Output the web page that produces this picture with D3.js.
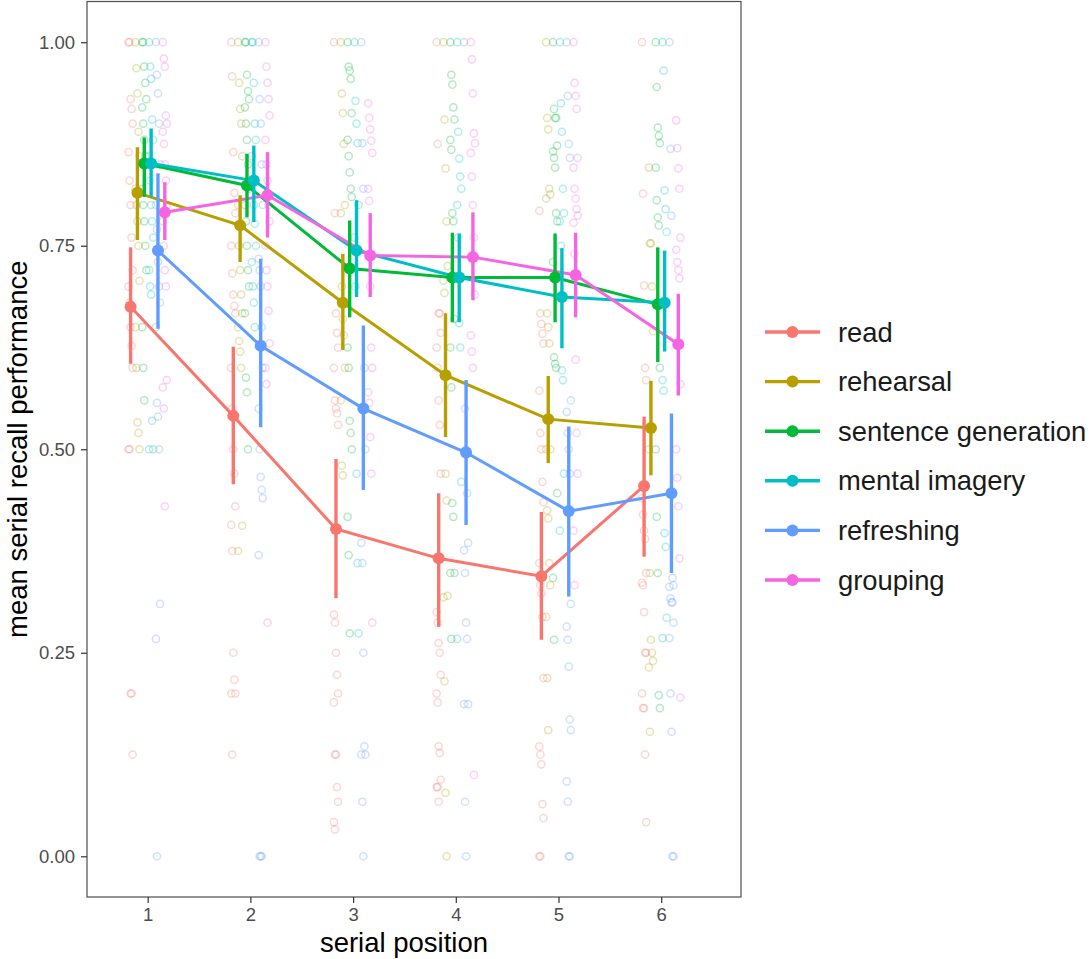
<!DOCTYPE html>
<html>
<head>
<meta charset="utf-8">
<script src="https://cdn.jsdelivr.net/npm/d3@7"></script>
<style>
  html, body { margin: 0; padding: 0; background: #fff; }
  svg { display: block; }
  text { font-family: "Liberation Sans", Arial, sans-serif; }
</style>
</head>
<body>
<svg id="chart" width="1091" height="959"></svg>
<script>
// ---------------- data ----------------
const conditions = ["read", "rehearsal", "sentence generation", "mental imagery", "refreshing", "grouping"];
const colors = ["#F8766D", "#B79F00", "#00BA38", "#00BFC4", "#619CFF", "#F564E3"];
const positions = [1, 2, 3, 4, 5, 6];
const yTicks = [0, 0.25, 0.5, 0.75, 1];
const yTickLabels = ["0.00", "0.25", "0.50", "0.75", "1.00"];

// mean per serial position
const meanRead       = [0.675, 0.541, 0.402, 0.366, 0.344, 0.455];
const meanRehearsal  = [0.815, 0.775, 0.680, 0.591, 0.537, 0.526];
const meanSentence   = [0.851, 0.824, 0.722, 0.711, 0.711, 0.678];
const meanImagery    = [0.851, 0.830, 0.744, 0.711, 0.687, 0.680];
const meanRefreshing = [0.744, 0.627, 0.550, 0.496, 0.424, 0.446];
const meanGrouping   = [0.791, 0.812, 0.738, 0.736, 0.714, 0.629];

// lower / upper ends of error bars
const lowRead       = [0.605, 0.457, 0.317, 0.282, 0.266, 0.368];
const highRead      = [0.748, 0.626, 0.488, 0.446, 0.423, 0.540];
const lowRehearsal  = [0.757, 0.730, 0.622, 0.515, 0.483, 0.468];
const highRehearsal = [0.871, 0.812, 0.740, 0.667, 0.590, 0.584];
const lowSentence   = [0.810, 0.785, 0.662, 0.656, 0.656, 0.607];
const highSentence  = [0.883, 0.863, 0.781, 0.766, 0.765, 0.748];
const lowImagery    = [0.810, 0.779, 0.687, 0.656, 0.624, 0.620];
const highImagery   = [0.894, 0.873, 0.806, 0.765, 0.747, 0.744];
const lowRefreshing = [0.648, 0.527, 0.450, 0.407, 0.319, 0.348];
const highRefreshing= [0.839, 0.734, 0.652, 0.585, 0.528, 0.544];
const lowGrouping   = [0.757, 0.760, 0.687, 0.683, 0.662, 0.566];
const highGrouping  = [0.828, 0.865, 0.790, 0.791, 0.766, 0.691];

// individual participant scores, one list per serial position
const pointsRead = [
  [1, 1, 0.93, 0.918, 0.9, 0.865, 0.83, 0.8, 0.76, 0.72, 0.7, 0.68, 0.65, 0.627, 0.6, 0.5, 0.5, 0.2, 0.2, 0.125],
  [1, 0.958, 0.865, 0.815, 0.79, 0.75, 0.716, 0.69, 0.676, 0.667, 0.6, 0.55, 0.5, 0.47, 0.43, 0.407, 0.375, 0.25, 0.217, 0.2, 0.2, 0.125],
  [1, 0.79, 0.667, 0.643, 0.625, 0.6, 0.56, 0.55, 0.544, 0.53, 0.297, 0.287, 0.25, 0.223, 0.2, 0.189, 0.125, 0.125, 0.085, 0.067, 0.042, 0.033],
  [1, 0.875, 0.667, 0.667, 0.643, 0.625, 0.6, 0.56, 0.53, 0.47, 0.3, 0.287, 0.262, 0.25, 0.223, 0.2, 0.189, 0.135, 0.127, 0.094, 0.085, 0.085, 0.067],
  [0.793, 0.667, 0.654, 0.642, 0.63, 0.572, 0.52, 0.5, 0.46, 0.435, 0.36, 0.333, 0.323, 0.294, 0.219, 0.135, 0.125, 0.113, 0.064, 0.047, 0, 0],
  [1, 0.814, 0.701, 0.6, 0.585, 0.44, 0.42, 0.4, 0.39, 0.348, 0.336, 0.333, 0.3, 0.25, 0.25, 0.2, 0.182, 0.182, 0.125, 0.042]
];
const pointsRehearsal = [
  [1, 0.968, 0.937, 0.89, 0.86, 0.82, 0.8, 0.78, 0.75, 0.707, 0.65, 0.6, 0.533, 0.52, 0.5],
  [1, 0.95, 0.918, 0.9, 0.86, 0.8, 0.75, 0.72, 0.69, 0.667, 0.65, 0.633, 0.62, 0.6, 0.406, 0.375],
  [1, 0.937, 0.913, 0.875, 0.8, 0.79, 0.7, 0.66, 0.64, 0.6, 0.56, 0.48, 0.468],
  [1, 0.905, 0.845, 0.78, 0.725, 0.707, 0.692, 0.47, 0.437, 0.32, 0.318, 0.215, 0.078, 0],
  [1, 0.907, 0.893, 0.82, 0.813, 0.808, 0.667, 0.65, 0.63, 0.5, 0.5, 0.425, 0.415, 0.36, 0.333, 0.294, 0.219, 0.155],
  [0.846, 0.753, 0.753, 0.7, 0.645, 0.5, 0.348, 0.266, 0.25, 0.24, 0.232, 0.153]
];
const pointsSentence = [
  [1, 1, 0.97, 0.95, 0.93, 0.92, 0.9, 0.88, 0.86, 0.85, 0.82, 0.8, 0.78, 0.75, 0.72, 0.65, 0.6, 0.56],
  [1, 1, 0.96, 0.94, 0.93, 0.92, 0.9, 0.88, 0.85, 0.82, 0.8, 0.78, 0.75, 0.72, 0.7, 0.667, 0.588, 0.57, 0.5],
  [1, 0.97, 0.965, 0.955, 0.913, 0.88, 0.86, 0.84, 0.82, 0.81, 0.625, 0.6, 0.535, 0.52, 0.5, 0.417, 0.37, 0.274],
  [1, 0.96, 0.948, 0.92, 0.905, 0.88, 0.868, 0.79, 0.78, 0.66, 0.625, 0.576, 0.434, 0.417, 0.348, 0.348, 0.267],
  [1, 0.918, 0.907, 0.907, 0.873, 0.866, 0.858, 0.846, 0.79, 0.78, 0.73, 0.613, 0.605, 0.6, 0.446, 0.342, 0.266],
  [1, 0.945, 0.895, 0.885, 0.876, 0.846, 0.806, 0.785, 0.775, 0.6, 0.5, 0.417, 0.348, 0.198, 0.182]
];
const pointsImagery = [
  [1, 0.97, 0.955, 0.905, 0.88, 0.86, 0.83, 0.8, 0.78, 0.76, 0.72, 0.7, 0.69, 0.535, 0.5, 0.5],
  [1, 1, 0.95, 0.9, 0.88, 0.86, 0.83, 0.8, 0.777, 0.75, 0.73, 0.7, 0.68, 0.65],
  [1, 0.928, 0.9, 0.876, 0.8, 0.76, 0.7, 0.47, 0.36, 0.274],
  [1, 0.89, 0.857, 0.835, 0.82, 0.8, 0.76, 0.655, 0.625, 0.46, 0.267],
  [1, 0.925, 0.89, 0.82, 0.79, 0.78, 0.75, 0.597, 0.585, 0.47, 0.4],
  [1, 0.965, 0.818, 0.795, 0.767, 0.585, 0.572, 0.397, 0.38, 0.293, 0.268]
];
const pointsRefreshing = [
  [1, 0.96, 0.937, 0.9, 0.85, 0.8, 0.77, 0.73, 0.7, 0.68, 0.65, 0.557, 0.54, 0.5, 0.31, 0.267, 0],
  [1, 0.93, 0.9, 0.85, 0.8, 0.734, 0.72, 0.7, 0.65, 0.6, 0.55, 0.5, 0.466, 0.45, 0.44, 0.37, 0, 0, 0],
  [1, 0.876, 0.82, 0.6, 0.5, 0.385, 0.36, 0.25, 0.135, 0.125, 0.125, 0.067, 0],
  [1, 0.55, 0.5, 0.446, 0.385, 0.376, 0.348, 0.287, 0.267, 0.187, 0.187, 0.067, 0],
  [1, 0.934, 0.875, 0.858, 0.56, 0.546, 0.52, 0.5, 0.47, 0.31, 0.282, 0.266, 0.233, 0.168, 0.155, 0.092, 0.067, 0, 0],
  [1, 0.869, 0.787, 0.342, 0.333, 0.331, 0.317, 0.312, 0.312, 0.287, 0.268, 0.2, 0.153, 0, 0]
];
const pointsGrouping = [
  [1, 0.98, 0.97, 0.91, 0.9, 0.89, 0.875, 0.85, 0.83, 0.8, 0.78, 0.75, 0.72, 0.7, 0.585, 0.576, 0.55, 0.43],
  [1, 0.97, 0.95, 0.93, 0.91, 0.88, 0.85, 0.83, 0.8, 0.78, 0.75, 0.72, 0.7, 0.67, 0.63, 0.6, 0.58, 0.287],
  [0.925, 0.907, 0.893, 0.879, 0.864, 0.82, 0.805, 0.7, 0.625, 0.6, 0.57, 0.557, 0.515, 0.47, 0.287],
  [1, 0.979, 0.937, 0.888, 0.876, 0.864, 0.835, 0.8, 0.76, 0.69, 0.64, 0.62, 0.6, 0.1],
  [1, 0.95, 0.934, 0.918, 0.858, 0.846, 0.82, 0.808, 0.795, 0.787, 0.778, 0.74, 0.61, 0.52, 0.47, 0.4, 0.333],
  [0.904, 0.87, 0.845, 0.82, 0.76, 0.745, 0.73, 0.72, 0.71, 0.58, 0.5, 0.465, 0.43, 0.366, 0.195]
];

const means  = [meanRead, meanRehearsal, meanSentence, meanImagery, meanRefreshing, meanGrouping];
const lows   = [lowRead, lowRehearsal, lowSentence, lowImagery, lowRefreshing, lowGrouping];
const highs  = [highRead, highRehearsal, highSentence, highImagery, highRefreshing, highGrouping];
const points = [pointsRead, pointsRehearsal, pointsSentence, pointsImagery, pointsRefreshing, pointsGrouping];

// ---------------- layout ----------------
const panel = { left: 87, right: 741, top: 1.5, bottom: 897 };
const dodgeWidth = 0.4;
const svg = d3.select("#chart");

const x = d3.scaleLinear().domain([0.409, 6.777]).range([panel.left, panel.right]);
const y = d3.scaleLinear().domain([-0.05, 1.05]).range([panel.bottom, panel.top]);
const dodge = i => (i - (conditions.length - 1) / 2) * dodgeWidth / conditions.length;

// panel background
svg.append("rect")
  .attr("x", panel.left).attr("y", panel.top)
  .attr("width", panel.right - panel.left).attr("height", panel.bottom - panel.top)
  .attr("fill", "#fff");

// raw points
const gPts = svg.append("g");
conditions.forEach((c, ci) => {
  points[ci].forEach((vals, pi) => {
    gPts.selectAll(null)
      .data(vals)
      .enter().append("circle")
      .attr("cx", (d, k) => x(positions[pi] + dodge(ci) + ((k % 5) - 2) * 0.01))
      .attr("cy", d => y(d))
      .attr("r", 3.6)
      .attr("fill", "none")
      .attr("stroke", colors[ci])
      .attr("stroke-width", 1.5)
      .attr("stroke-opacity", 0.3);
  });
});

// lines
const line = d3.line().x(d => x(d[0])).y(d => y(d[1]));
conditions.forEach((c, ci) => {
  svg.append("path")
    .datum(positions.map((p, pi) => [p + dodge(ci), means[ci][pi]]))
    .attr("d", line)
    .attr("fill", "none")
    .attr("stroke", colors[ci])
    .attr("stroke-width", 3);
});

// error bars and mean points
conditions.forEach((c, ci) => {
  const g = svg.append("g");
  g.selectAll("line")
    .data(positions)
    .enter().append("line")
    .attr("x1", (p) => x(p + dodge(ci)))
    .attr("x2", (p) => x(p + dodge(ci)))
    .attr("y1", (p, pi) => y(lows[ci][pi]))
    .attr("y2", (p, pi) => y(highs[ci][pi]))
    .attr("stroke", colors[ci])
    .attr("stroke-width", 3.4);
  g.selectAll("circle")
    .data(positions)
    .enter().append("circle")
    .attr("cx", (p) => x(p + dodge(ci)))
    .attr("cy", (p, pi) => y(means[ci][pi]))
    .attr("r", 6)
    .attr("fill", colors[ci]);
});

// panel border
svg.append("rect")
  .attr("x", panel.left).attr("y", panel.top)
  .attr("width", panel.right - panel.left).attr("height", panel.bottom - panel.top)
  .attr("fill", "none").attr("stroke", "#4d4d4d").attr("stroke-width", 1.2);

// axes
const yAxis = d3.axisLeft(y).tickValues(yTicks).tickFormat((d, i) => yTickLabels[i]).tickSize(6).tickPadding(6);
const gy = svg.append("g").attr("transform", `translate(${panel.left},0)`).call(yAxis);
const xAxis = d3.axisBottom(x).tickValues(positions).tickFormat(d3.format("d")).tickSize(6).tickPadding(5);
const gx = svg.append("g").attr("transform", `translate(0,${panel.bottom})`).call(xAxis);
[gx, gy].forEach(g => {
  g.select(".domain").remove();
  g.selectAll(".tick line").attr("stroke", "#333").attr("stroke-width", 1.2);
  g.selectAll(".tick text").attr("fill", "#4d4d4d").style("font-size", "18.5px")
    .style("font-family", '"Liberation Sans", Arial, sans-serif');
});

// axis titles
svg.append("text")
  .attr("x", 404).attr("y", 952)
  .attr("text-anchor", "middle")
  .style("font-size", "27.5px").attr("fill", "#000")
  .text("serial position");
svg.append("text")
  .attr("transform", `translate(27,${(panel.top + panel.bottom) / 2}) rotate(-90)`)
  .attr("text-anchor", "middle")
  .style("font-size", "27.5px").attr("fill", "#000")
  .text("mean serial recall performance");

// legend
const legendY = d3.scalePoint().domain(conditions).range([332, 580]);
const lg = svg.append("g");
conditions.forEach((c, ci) => {
  const yy = legendY(c);
  lg.append("line").attr("x1", 765).attr("x2", 820).attr("y1", yy).attr("y2", yy)
    .attr("stroke", colors[ci]).attr("stroke-width", 3.4);
  lg.append("circle").attr("cx", 792.5).attr("cy", yy).attr("r", 6).attr("fill", colors[ci]);
  lg.append("text").attr("x", 838).attr("y", yy).attr("dy", "0.35em")
    .style("font-size", "27.4px").attr("fill", "#1a1a1a").text(c);
});
</script>
</body>
</html>
